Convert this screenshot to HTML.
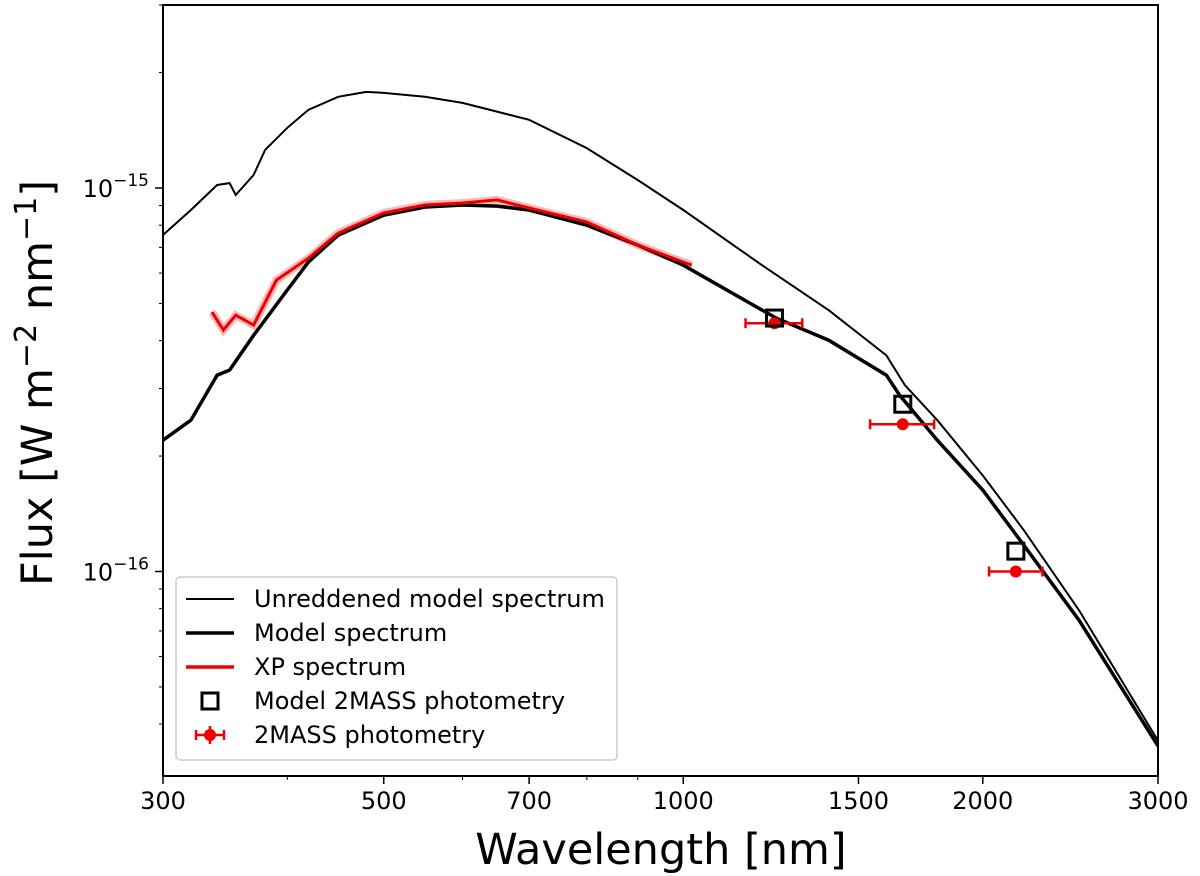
<!DOCTYPE html>
<html><head><meta charset="utf-8"><style>
body{margin:0;background:#fff;}
svg{display:block;font-family:"DejaVu Sans","Liberation Sans",sans-serif;}
</style></head><body>
<svg id="chart" width="1200" height="876">
<g id="plot"></g>
</svg>
<script>
// Flux values in units of 1e-16 W m^-2 nm^-1
const unredWl = [300,320,340,350,355,370,380,400,420,450,480,500,550,600,700,800,900,1000,1200,1400,1600,1670,1800,2000,2200,2500,3000];
const unredFlux = [7.54,8.76,10.18,10.3,9.59,10.81,12.57,14.35,15.99,17.29,17.81,17.70,17.29,16.67,15.06,12.71,10.49,8.76,6.29,4.80,3.66,3.06,2.48,1.78,1.28,0.791,0.362];
const modelWl = [300,320,340,350,370,400,420,450,500,550,600,650,700,800,900,1000,1240,1400,1600,1650,1800,2000,2200,2500,3000];
const modelFlux = [2.20,2.48,3.25,3.35,4.13,5.42,6.41,7.54,8.50,8.92,9.03,8.97,8.76,8.00,7.10,6.29,4.58,4.01,3.25,2.88,2.20,1.63,1.17,0.745,0.351];
const xpWl = [336,345,355,370,390,420,450,500,550,600,650,700,800,900,1000,1020];
const xpFlux = [4.75,4.26,4.66,4.39,5.75,6.56,7.63,8.61,9.03,9.14,9.31,8.87,8.15,7.10,6.41,6.29];
const photWl = [1235,1662,2159];
const modelPhot = [4.58,2.73,1.13];
const obsPhot = [4.44,2.42,1.00];
const obsLo = [1155,1541,2029];
const obsHi = [1317,1787,2296];
const xTicks = [300,500,700,1000,1500,2000,3000];

const X0=163,X1=1158,Y0=5,Y1=776;
const xs = w => X0 + (Math.log10(w/300))*(X1-X0);
const ys = f => 571.5 - Math.log10(f)*383.5;
const NS="http://www.w3.org/2000/svg";
const g=document.getElementById('plot');
function el(t,a,p){const e=document.createElementNS(NS,t);for(const k in a)e.setAttribute(k,a[k]);(p||g).appendChild(e);return e;}
function path(wl,fl){return wl.map((w,i)=>(i?'L':'M')+xs(w).toFixed(1)+','+ys(fl[i]).toFixed(1)).join('');}

const clip=el('clipPath',{id:'cp'});el('rect',{x:X0,y:Y0,width:X1-X0,height:Y1-Y0},clip);
const pg=el('g',{'clip-path':'url(#cp)'});
let e;
e=el('path',{d:path(unredWl,unredFlux),fill:'none',stroke:'#000','stroke-width':2},pg);

e=el('path',{d:path(xpWl,xpFlux),fill:'none',stroke:'#f88','stroke-width':8,opacity:0.6},pg);

e=el('path',{d:path(modelWl,modelFlux),fill:'none',stroke:'#000','stroke-width':3.5},pg);

e=el('path',{d:path(xpWl,xpFlux),fill:'none',stroke:'#e00','stroke-width':3},pg);

photWl.forEach((w,i)=>{
  const y=ys(obsPhot[i]);
  e=el('line',{x1:xs(obsLo[i]),x2:xs(obsHi[i]),y1:y,y2:y,stroke:'#e00','stroke-width':2.5});
  
  [obsLo[i],obsHi[i]].forEach(v=>{el('line',{x1:xs(v),x2:xs(v),y1:y-5,y2:y+5,stroke:'#e00','stroke-width':2.5});});
  e=el('circle',{cx:xs(w),cy:y,r:6,fill:'#e00'});
  
  e=el('rect',{x:xs(w)-8,y:ys(modelPhot[i])-8,width:16,height:16,fill:'none',stroke:'#000','stroke-width':3});
  
});
e=el('rect',{x:X0,y:Y0,width:X1-X0,height:Y1-Y0,fill:'none',stroke:'#000','stroke-width':2});

xTicks.forEach(t=>{const x=xs(t);el('line',{x1:x,x2:x,y1:Y1,y2:Y1+8,stroke:'#000','stroke-width':1.5});
 e=el('text',{x:x,y:Y1+33,'text-anchor':'middle','font-size':24});e.textContent=t;
 });
[400,600,800,900].forEach(t=>{const x=xs(t);el('line',{x1:x,x2:x,y1:Y1,y2:Y1+4,stroke:'#000','stroke-width':1});});
[1,10].forEach((v,i)=>{const y=ys(v);el('line',{x1:X0-8,x2:X0,y1:y,y2:y,stroke:'#000','stroke-width':1.5});
 e=el('text',{x:X0-14,y:y+9,'text-anchor':'end','font-size':24});
 e.innerHTML='10<tspan dy="-11" font-size="17">−'+(i?15:16)+'</tspan>';
 });
[0.4,0.5,0.6,0.7,0.8,0.9,2,3,4,5,6,7,8,9,20,30].forEach(v=>{const y=ys(v);if(y>Y0&&y<Y1)el('line',{x1:X0-4,x2:X0,y1:y,y2:y,stroke:'#000','stroke-width':1});});
e=el('text',{x:661,y:864,'text-anchor':'middle','font-size':43});e.textContent='Wavelength [nm]';

e=el('text',{x:0,y:0,'text-anchor':'middle','font-size':43,transform:'translate(52,383) rotate(-90)'});
e.innerHTML='Flux [W m<tspan dy="-16" font-size="30">−2</tspan><tspan dy="16"> nm</tspan><tspan dy="-16" font-size="30">−1</tspan><tspan dy="16">]</tspan>';

const lg=el('g',{});
el('rect',{x:176,y:577,width:441,height:183,rx:4,fill:'#fff',stroke:'#ccc','stroke-width':1.5},lg);
const labels=['Unreddened model spectrum','Model spectrum','XP spectrum','Model 2MASS photometry','2MASS photometry'];
labels.forEach((s,i)=>{const y=599+i*34;
 if(i<3) el('line',{x1:186,x2:234,y1:y,y2:y,stroke:i==2?'#e00':'#000','stroke-width':i==0?2:3.5},lg);
 else if(i==3) el('rect',{x:202,y:y-8,width:16,height:16,fill:'none',stroke:'#000','stroke-width':3},lg);
 else {el('line',{x1:196,x2:224,y1:y,y2:y,stroke:'#e00','stroke-width':2.5},lg);el('line',{x1:196,x2:196,y1:y-5,y2:y+5,stroke:'#e00','stroke-width':2.5},lg);el('line',{x1:224,x2:224,y1:y-5,y2:y+5,stroke:'#e00','stroke-width':2.5},lg);el('line',{x1:210,x2:210,y1:y-9,y2:y+9,stroke:'#e00','stroke-width':2.5},lg);el('circle',{cx:210,cy:y,r:6,fill:'#e00'},lg);}
 const t=el('text',{x:254,y:y+8,'font-size':24},lg);t.textContent=s;
 });
</script>
</body></html>
